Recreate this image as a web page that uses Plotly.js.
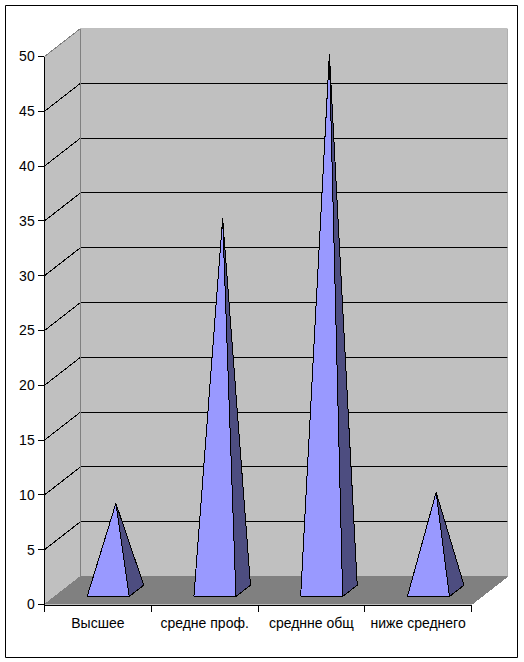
<!DOCTYPE html>
<html>
<head>
<meta charset="utf-8">
<script src="https://cdn.plot.ly/plotly-3.0.1.min.js"></script>
<style>html,body{margin:0;padding:0;background:#fff}#c{width:524px;height:662px}
.scatterlayer path{shape-rendering:crispEdges}</style>
</head>
<body>
<div id="c"></div>
<script>
const categories = ["Высшее", "средне проф.", "среднне общ", "ниже среднего"];
const values = [8, 34, 49, 9];
const gridLevels = [5, 10, 15, 20, 25, 30, 35, 40, 45];
const yMax = 50;

const W = 524, H = 662;
// pixel geometry of the 3D box
const fx0 = 44.5, fx1 = 471.5, fy0 = 604.5, fy1 = 56.5, depthX = 36, depthY = 28;
const xUnit = (fx1 - fx0) / categories.length, yUnit = (fy0 - fy1) / yMax;
const dx = depthX / xUnit, dy = depthY / yUnit;
const n = categories.length;

const faceLine = {color: '#000', width: 1};
function poly(x, y, fill, line) {
  return {x, y, type: 'scatter', mode: 'lines', fill: 'toself', fillcolor: fill,
    line: line || {width: 0, color: fill}, hoverinfo: 'skip', showlegend: false, xaxis: 'x', yaxis: 'y'};
}
function path(x, y, color, width) {
  return {x, y, type: 'scatter', mode: 'lines', line: {color, width}, hoverinfo: 'skip',
    showlegend: false, xaxis: 'x', yaxis: 'y'};
}

const traces = [];
// walls and floor
traces.push(poly([dx, n + dx, n + dx, dx, dx], [dy, dy, yMax + dy, yMax + dy, dy], '#C0C0C0'));
traces.push(poly([0, dx, dx, 0, 0], [0, dy, yMax + dy, yMax, 0], '#C0C0C0'));
traces.push(poly([0, n, n + dx, dx, 0], [0, 0, dy, dy, 0], '#808080'));
// gridlines
const gx = [], gy = [];
gridLevels.forEach(v => { gx.push(0, dx, n + dx, null); gy.push(v, v + dy, v + dy, null); });
traces.push(path(gx, gy, '#000', 1));
// wall edges
traces.push(path([0, dx, n + dx], [yMax, yMax + dy, yMax + dy], '#808080', 1));
traces.push(path([dx, dx, n + dx], [yMax + dy, dy, dy], '#808080', 1));
traces.push(path([0, dx], [0, dy], '#808080', 1));
traces.push(path([n, n + dx, n + dx], [0, dy, yMax + dy], '#808080', 1));

// pyramids
const dFront = 0.286, dBack = 0.69, dMid = 0.5, halfW = 0.197;
values.forEach((v, i) => {
  const c = i + 0.5;
  const flx = c - halfW + dx * dFront, frx = c + halfW + dx * dFront, brx = c + halfW + dx * dBack;
  const fy = dy * dFront, by = dy * dBack;
  const ax = c + dx * dMid, ay = dy * 0.483 + v;
  traces.push(poly([frx, brx, ax, frx], [fy, by, ay, fy], '#4D4D80', faceLine));
  traces.push(poly([flx, frx, ax, flx], [fy, fy, ay, fy], '#9999FF', faceLine));
});

// labelled front axes
traces.push({x: categories, y: values, type: 'bar', opacity: 0, hoverinfo: 'skip', showlegend: false, xaxis: 'x2', yaxis: 'y2'});

const font = {family: 'Liberation Sans, Arial, sans-serif', size: 14, color: '#000'};
const layout = {
  width: W, height: H, margin: {l: 0, r: 0, t: 0, b: 0}, paper_bgcolor: '#fff', plot_bgcolor: 'rgba(0,0,0,0)',
  showlegend: false,
  xaxis: {domain: [fx0 / W, (fx1 + depthX) / W], range: [0, n + dx], visible: false, fixedrange: true},
  yaxis: {domain: [(H - fy0) / H, (H - fy1 + depthY) / H], range: [0, yMax + dy], visible: false, fixedrange: true},
  xaxis2: {domain: [fx0 / W, fx1 / W], anchor: 'y2', type: 'category', categoryorder: 'array', categoryarray: categories,
    range: [-0.5, n - 0.5], tickson: 'boundaries', ticks: 'outside', ticklen: 6, tickwidth: 1, tickcolor: '#000',
    showline: true, linecolor: '#000', linewidth: 1, showgrid: false, zeroline: false, tickangle: 0,
    ticklabelstandoff: 6, tickfont: font},
  yaxis2: {domain: [(H - fy0) / H, (H - fy1) / H], anchor: 'x2', range: [0, yMax], dtick: 5, tick0: 0,
    ticks: 'outside', ticklen: 6, tickwidth: 1, tickcolor: '#000', showline: true, linecolor: '#000', linewidth: 1,
    showgrid: false, zeroline: false, tickfont: font},
  shapes: [{type: 'rect', xref: 'paper', yref: 'paper', x0: 5.5 / W, x1: 517.5 / W, y0: (H - 657.5) / H, y1: (H - 5.5) / H,
    line: {color: '#000', width: 1}, fillcolor: 'rgba(0,0,0,0)', layer: 'below'}]
};
Plotly.newPlot('c', traces, layout, {displayModeBar: false, staticPlot: true});
</script>
</body>
</html>
